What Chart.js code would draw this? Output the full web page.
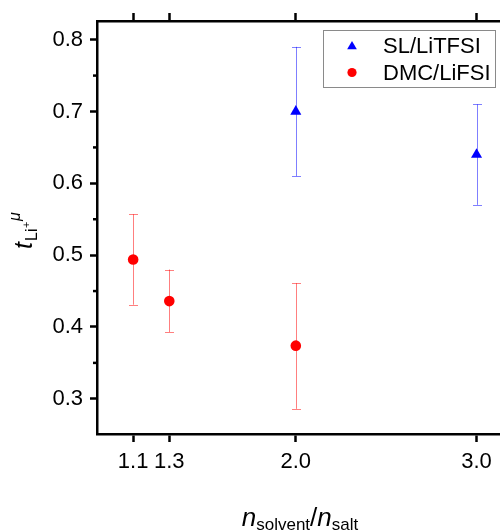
<!DOCTYPE html>
<html>
<head>
<meta charset="utf-8">
<script src="https://cdn.jsdelivr.net/npm/chart.js@4.4.0/dist/chart.umd.min.js"></script>
<style>
  html, body { margin: 0; padding: 0; background: #fff; overflow: hidden; width: 500px; height: 532px; }
  canvas { display: block; }
</style>
</head>
<body>
<canvas id="popChart" width="520" height="532"></canvas>
<script>
// values
const xTicks = [1.1, 1.3, 2.0, 3.0]
const yMajor = [0.3, 0.4, 0.5, 0.6, 0.7, 0.8]
const yMinor = [0.35, 0.45, 0.55, 0.65, 0.75]

const seriesNames = ['SL/LiTFSI', 'DMC/LiFSI']

const slX = [2.0, 3.0]
const slY = [0.70, 0.64]
const slLow = [0.61, 0.57]
const slHigh = [0.79, 0.71]

const dmcX = [1.1, 1.3, 2.0]
const dmcY = [0.494, 0.436, 0.374]
const dmcLow = [0.431, 0.393, 0.286]
const dmcHigh = [0.557, 0.480, 0.461]

const FONT = '"Liberation Sans", Arial, sans-serif'
// the canvas is a bit wider than the window so the right edge is cut off like in the original
const X_MAX = 3.205

function points(xs, ys) {
    return xs.map((x, i) => ({ x: x, y: ys[i] }))
}

// error bars, minor ticks, legend and the rich axis titles
const extras = {
    id: 'extras',
    beforeDatasetsDraw(chart) {
        const ctx = chart.ctx
        const xs = chart.scales.x
        const ys = chart.scales.y
        chart.data.datasets.forEach(ds => {
            ctx.save()
            ctx.strokeStyle = ds.errColor
            ctx.lineWidth = 1
            ds.data.forEach((p, i) => {
                const px = Math.round(xs.getPixelForValue(p.x)) + 0.5
                const top = ys.getPixelForValue(ds.errHigh[i])
                const bot = ys.getPixelForValue(ds.errLow[i])
                ctx.beginPath()
                ctx.moveTo(px, top)
                ctx.lineTo(px, bot)
                ctx.moveTo(px - 4.5, Math.round(top) + 0.5)
                ctx.lineTo(px + 4.5, Math.round(top) + 0.5)
                ctx.moveTo(px - 4.5, Math.round(bot) + 0.5)
                ctx.lineTo(px + 4.5, Math.round(bot) + 0.5)
                ctx.stroke()
            })
            ctx.restore()
        })
    },
    afterDraw(chart) {
        const ctx = chart.ctx
        const ys = chart.scales.y
        const area = chart.chartArea

        // minor ticks on the left axis
        ctx.save()
        ctx.strokeStyle = '#000'
        ctx.lineWidth = 2.5
        yMinor.forEach(v => {
            const py = ys.getPixelForValue(v)
            ctx.beginPath()
            ctx.moveTo(area.left - 4, py)
            ctx.lineTo(area.left, py)
            ctx.stroke()
        })
        ctx.restore()

        // legend
        ctx.save()
        ctx.strokeStyle = '#8a8a8a'
        ctx.lineWidth = 1
        ctx.strokeRect(323.5, 30.5, 172, 57)
        const rows = [45.5, 72.5]
        chart.data.datasets.forEach((ds, i) => {
            ctx.fillStyle = ds.backgroundColor
            Chart.helpers.drawPoint(ctx, {
                pointStyle: ds.pointStyle,
                radius: ds.pointStyle == 'triangle' ? 5.6 : 4.6,
                rotation: 0,
                borderWidth: 0
            }, 352, rows[i] + (ds.pointStyle == 'triangle' ? 1 : 0))
            ctx.fillStyle = '#000'
            ctx.font = '22px ' + FONT
            ctx.textBaseline = 'middle'
            ctx.textAlign = 'left'
            ctx.fillText(ds.label, 383, rows[i] + 1)
        })
        ctx.restore()

        // y title: t_{Li+}^mu
        ctx.save()
        ctx.fillStyle = '#000'
        ctx.translate(32, 249)
        ctx.rotate(-Math.PI / 2)
        ctx.textBaseline = 'alphabetic'
        ctx.textAlign = 'left'
        ctx.font = 'italic 25px ' + FONT
        ctx.fillText('t', 0, 0)
        ctx.font = '16px ' + FONT
        ctx.fillText('Li', 8, 5)
        ctx.font = '11px ' + FONT
        ctx.fillText('+', 21, -2)
        ctx.font = 'italic 16px ' + FONT
        ctx.fillText('\u03bc', 28, -12)
        ctx.restore()

        // x title: n_solvent / n_salt
        ctx.save()
        ctx.fillStyle = '#000'
        ctx.textBaseline = 'alphabetic'
        ctx.textAlign = 'left'
        const parts = [
            ['italic 26px ' + FONT, 'n', 526],
            ['17px ' + FONT, 'solvent', 530],
            ['26px ' + FONT, '/', 526],
            ['italic 26px ' + FONT, 'n', 526],
            ['17px ' + FONT, 'salt', 530]
        ]
        let total = 0
        parts.forEach(p => { ctx.font = p[0]; total += ctx.measureText(p[1]).width })
        let x = 300 - total / 2
        parts.forEach(p => {
            ctx.font = p[0]
            ctx.fillText(p[1], x, p[2])
            x += ctx.measureText(p[1]).width
        })
        ctx.restore()
    }
}

const tickFont = { family: FONT, size: 22 }

const config = {
    type: 'scatter',
    data: {
        datasets: [
            {
                label: seriesNames[0],
                data: points(slX, slY),
                errLow: slLow,
                errHigh: slHigh,
                errColor: 'rgba(0, 0, 255, 0.5)',
                pointStyle: 'triangle',
                pointRadius: 6.4,
                backgroundColor: '#0000ff',
                borderWidth: 0
            },
            {
                label: seriesNames[1],
                data: points(dmcX, dmcY),
                errLow: dmcLow,
                errHigh: dmcHigh,
                errColor: 'rgba(255, 0, 0, 0.5)',
                pointStyle: 'circle',
                pointRadius: 5.3,
                backgroundColor: '#ff0000',
                borderWidth: 0
            }
        ]
    },
    options: {
        responsive: false,
        animation: false,
        layout: { padding: 0 },
        plugins: {
            legend: { display: false },
            tooltip: { enabled: false }
        },
        scales: {
            x: {
                type: 'linear',
                position: 'bottom',
                min: 0.9,
                max: X_MAX,
                afterBuildTicks: s => { s.ticks = xTicks.map(v => ({ value: v })) },
                afterFit: s => { s.height = 98 },
                ticks: {
                    callback: v => v.toFixed(1),
                    font: tickFont,
                    color: '#000',
                    padding: 7,
                    maxRotation: 0,
                    autoSkip: false
                },
                grid: { drawOnChartArea: false, tickLength: 8, tickWidth: 2.5, tickColor: '#000' },
                border: { display: true, color: '#000', width: 2.5 }
            },
            x2: {
                type: 'linear',
                position: 'top',
                min: 0.9,
                max: X_MAX,
                afterBuildTicks: s => { s.ticks = xTicks.map(v => ({ value: v })) },
                afterFit: s => { s.height = 21 },
                ticks: { display: false },
                grid: { drawOnChartArea: false, tickLength: 8, tickWidth: 2.5, tickColor: '#000' },
                border: { display: true, color: '#000', width: 2.5 }
            },
            y: {
                type: 'linear',
                position: 'left',
                min: 0.251,
                max: 0.826,
                afterBuildTicks: s => { s.ticks = yMajor.map(v => ({ value: v })) },
                afterFit: s => { s.width = 97 },
                ticks: {
                    callback: v => v.toFixed(1),
                    font: tickFont,
                    color: '#000',
                    padding: 7,
                    autoSkip: false
                },
                grid: { drawOnChartArea: false, tickLength: 7, tickWidth: 2.5, tickColor: '#000' },
                border: { display: true, color: '#000', width: 2.5 }
            }
        }
    },
    plugins: [extras]
}

new Chart(document.getElementById('popChart').getContext('2d'), config)
</script>
</body>
</html>
